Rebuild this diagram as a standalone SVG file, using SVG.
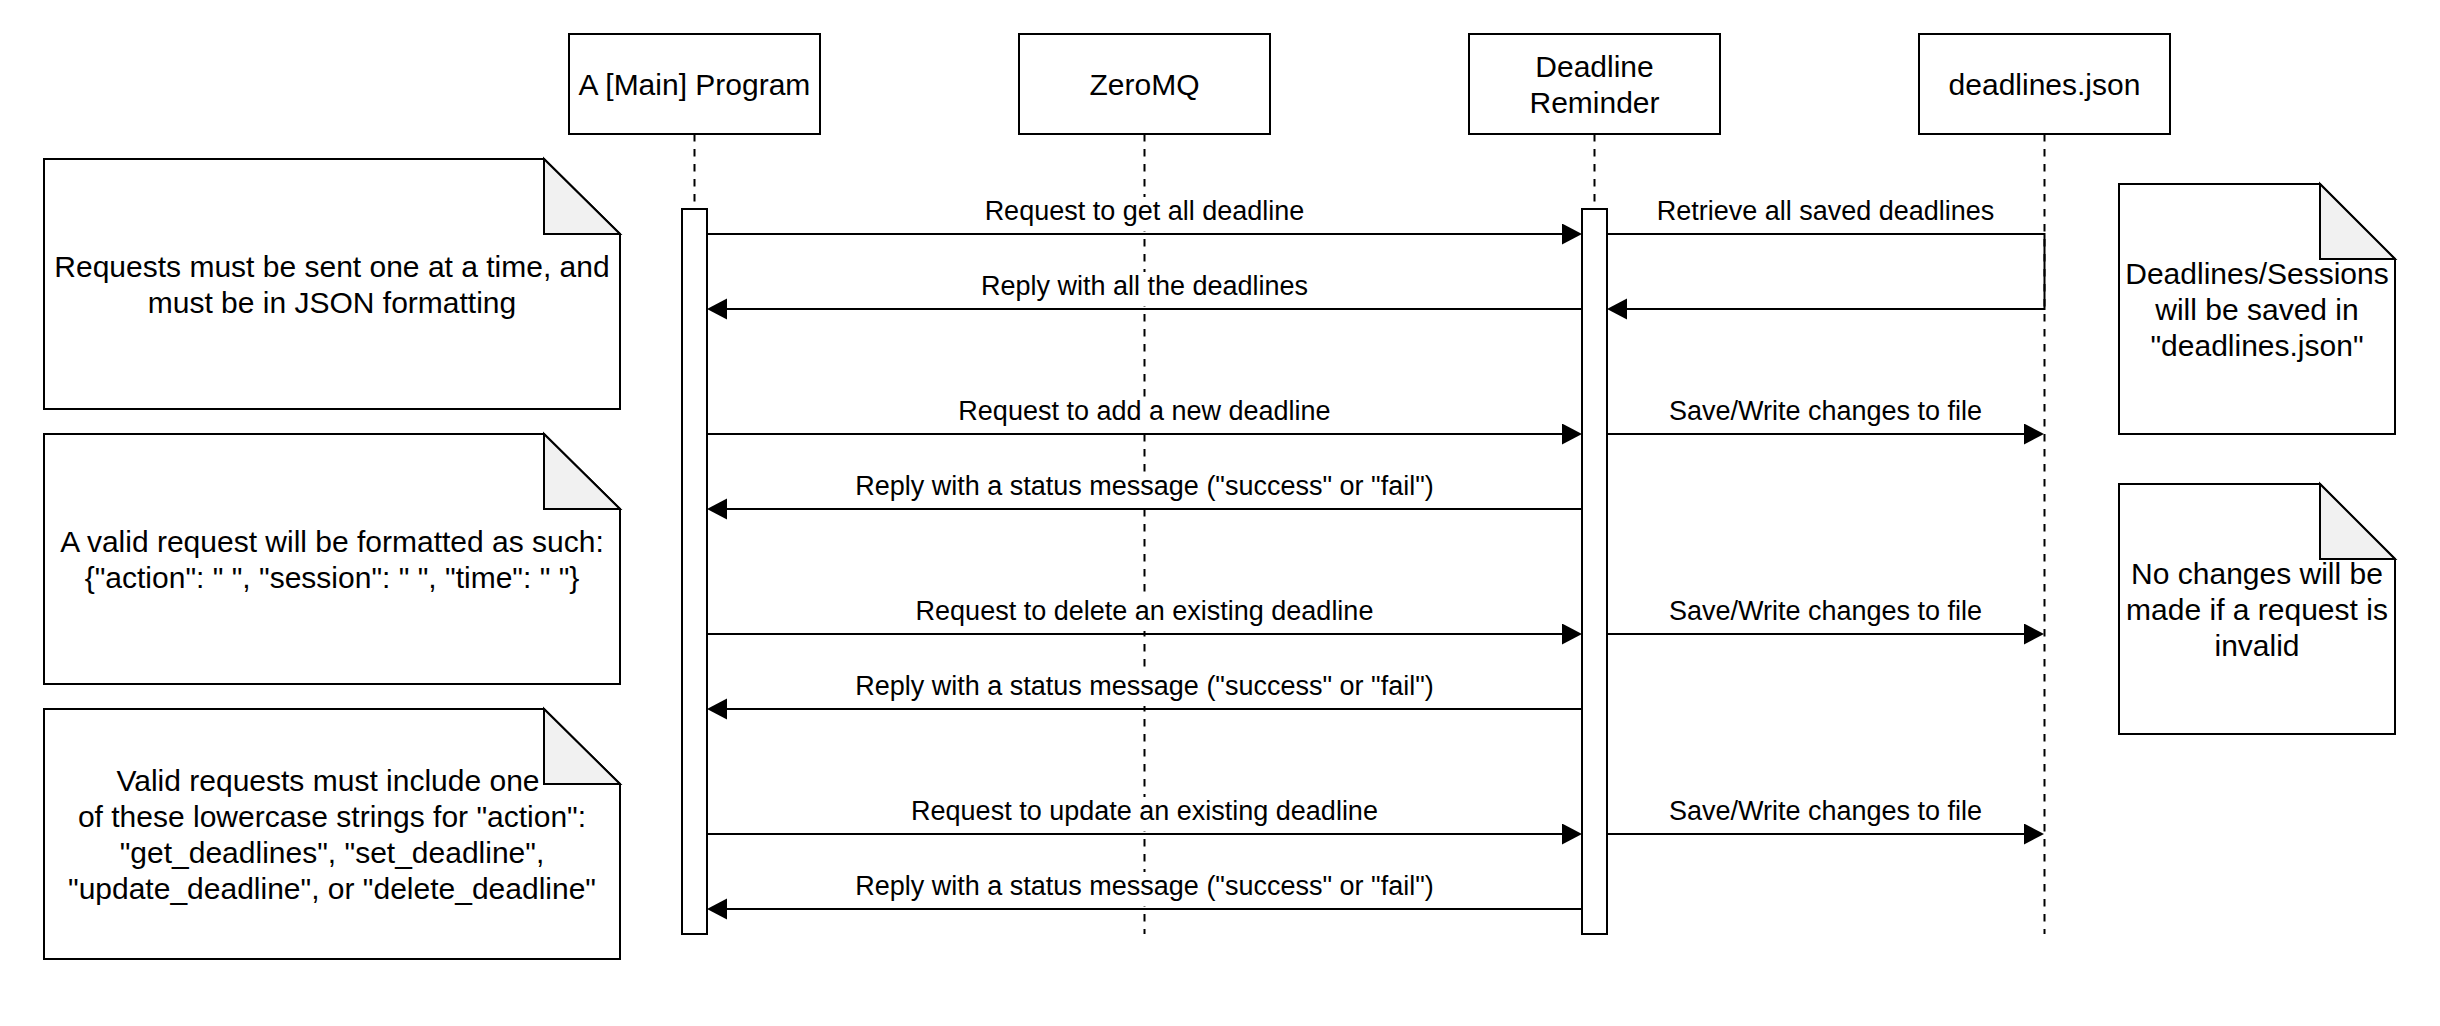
<svg xmlns="http://www.w3.org/2000/svg" width="2440" height="1026" viewBox="0 0 2440 1026">
<style>
  .box { fill: #ffffff; stroke: #000000; stroke-width: 2; }
  .life { stroke: #000000; stroke-width: 2; stroke-dasharray: 7.5 7.5; fill: none; }
  .act { fill: #ffffff; stroke: #000000; stroke-width: 2; }
  .msg { stroke: #000000; stroke-width: 2; fill: none; marker-end: url(#arrow); }
  .note { fill: #ffffff; stroke: #000000; stroke-width: 2; stroke-linejoin: miter; }
  .fold { fill: #f1f1f1; stroke: #000000; stroke-width: 2; stroke-linejoin: miter; }
  .t30 { font-family: "Liberation Sans", Arial, Helvetica, sans-serif; font-size: 30px; fill: #000000; text-anchor: middle; }
  .t27 { font-family: "Liberation Sans", Arial, Helvetica, sans-serif; font-size: 27px; fill: #000000; text-anchor: middle; }
  .lbg { fill: #ffffff; }
</style>
<defs>
  <marker id="arrow" markerUnits="userSpaceOnUse" markerWidth="22" markerHeight="22" refX="10" refY="10.5" orient="auto">
    <path d="M0,0 L20,10.5 L0,21 Z" fill="#000000"/>
  </marker>
</defs>
<rect x="0" y="0" width="2440" height="1026" fill="#ffffff"/>

<g id="lifelines">
  <line class="life" x1="694.5" y1="134" x2="694.5" y2="934"/>
  <line class="life" x1="1144.5" y1="134" x2="1144.5" y2="934"/>
  <line class="life" x1="1594.5" y1="134" x2="1594.5" y2="934"/>
  <line class="life" x1="2044.5" y1="134" x2="2044.5" y2="934"/>
</g>

<g id="node-main">
  <rect class="box" x="569" y="34" width="251" height="100"/>
  <text class="t30" x="694.5" y="94.5">A [Main] Program</text>
  <rect class="act" x="682" y="209" width="25" height="725"/>
</g>
<g id="node-zeromq">
  <rect class="box" x="1019" y="34" width="251" height="100"/>
  <text class="t30" x="1144.5" y="94.5">ZeroMQ</text>
</g>
<g id="node-reminder">
  <rect class="box" x="1469" y="34" width="251" height="100"/>
  <text class="t30" x="1594.5" y="76.5">Deadline</text>
  <text class="t30" x="1594.5" y="112.5">Reminder</text>
  <rect class="act" x="1582" y="209" width="25" height="725"/>
</g>
<g id="node-json">
  <rect class="box" x="1919" y="34" width="251" height="100"/>
  <text class="t30" x="2044.5" y="94.5">deadlines.json</text>
</g>

<g id="note-1">
  <path class="note" d="M44,159 H544 L620,234 V409 H44 Z"/>
  <path class="fold" d="M544,159 V234 H620 Z"/>
  <text class="t30" x="332" y="277">Requests must be sent one at a time, and</text>
  <text class="t30" x="332" y="313">must be in JSON formatting</text>
</g>
<g id="note-2">
  <path class="note" d="M44,434 H544 L620,509 V684 H44 Z"/>
  <path class="fold" d="M544,434 V509 H620 Z"/>
  <text class="t30" x="332" y="552">A valid request will be formatted as such:</text>
  <text class="t30" x="332" y="588">{"action": " ", "session": " ", "time": " "}</text>
</g>
<g id="note-3">
  <path class="note" d="M44,709 H544 L620,784 V959 H44 Z"/>
  <path class="fold" d="M544,709 V784 H620 Z"/>
  <text class="t30" x="328" y="791">Valid requests must include one</text>
  <text class="t30" x="332" y="827">of these lowercase strings for "action":</text>
  <text class="t30" x="332" y="863">"get_deadlines", "set_deadline",</text>
  <text class="t30" x="332" y="899">"update_deadline", or "delete_deadline"</text>
</g>
<g id="note-4">
  <path class="note" d="M2119,184 H2320 L2395,259 V434 H2119 Z"/>
  <path class="fold" d="M2320,184 V259 H2395 Z"/>
  <text class="t30" x="2257" y="284">Deadlines/Sessions</text>
  <text class="t30" x="2257" y="320">will be saved in</text>
  <text class="t30" x="2257" y="356">"deadlines.json"</text>
</g>
<g id="note-5">
  <path class="note" d="M2119,484 H2320 L2395,559 V734 H2119 Z"/>
  <path class="fold" d="M2320,484 V559 H2395 Z"/>
  <text class="t30" x="2257" y="584">No changes will be</text>
  <text class="t30" x="2257" y="620">made if a request is</text>
  <text class="t30" x="2257" y="656">invalid</text>
</g>

<g id="connectors">
  <path class="msg" d="M707,234 H1572"/>
  <path class="msg" d="M1582,309 H717"/>
  <path class="msg" d="M707,434 H1572"/>
  <path class="msg" d="M1582,509 H717"/>
  <path class="msg" d="M707,634 H1572"/>
  <path class="msg" d="M1582,709 H717"/>
  <path class="msg" d="M707,834 H1572"/>
  <path class="msg" d="M1582,909 H717"/>
  <path class="msg" d="M1607,234 H2044.5 V309 H1617"/>
  <path class="msg" d="M1607,434 H2034"/>
  <path class="msg" d="M1607,634 H2034"/>
  <path class="msg" d="M1607,834 H2034"/>

  <rect class="lbg" x="985" y="197" width="320" height="34"/>
  <text class="t27" x="1144.5" y="220">Request to get all deadline</text>
  <rect class="lbg" x="977" y="272" width="335" height="34"/>
  <text class="t27" x="1144.5" y="295">Reply with all the deadlines</text>
  <rect class="lbg" x="955" y="397" width="380" height="34"/>
  <text class="t27" x="1144.5" y="420">Request to add a new deadline</text>
  <rect class="lbg" x="850" y="472" width="590" height="34"/>
  <text class="t27" x="1144.5" y="495">Reply with a status message ("success" or "fail")</text>
  <rect class="lbg" x="912" y="597" width="465" height="34"/>
  <text class="t27" x="1144.5" y="620">Request to delete an existing deadline</text>
  <rect class="lbg" x="850" y="672" width="590" height="34"/>
  <text class="t27" x="1144.5" y="695">Reply with a status message ("success" or "fail")</text>
  <rect class="lbg" x="908" y="797" width="473" height="34"/>
  <text class="t27" x="1144.5" y="820">Request to update an existing deadline</text>
  <rect class="lbg" x="850" y="872" width="590" height="34"/>
  <text class="t27" x="1144.5" y="895">Reply with a status message ("success" or "fail")</text>

  <text class="t27" x="1825.5" y="220">Retrieve all saved deadlines</text>
  <text class="t27" x="1825.5" y="420">Save/Write changes to file</text>
  <text class="t27" x="1825.5" y="620">Save/Write changes to file</text>
  <text class="t27" x="1825.5" y="820">Save/Write changes to file</text>
</g>
</svg>
